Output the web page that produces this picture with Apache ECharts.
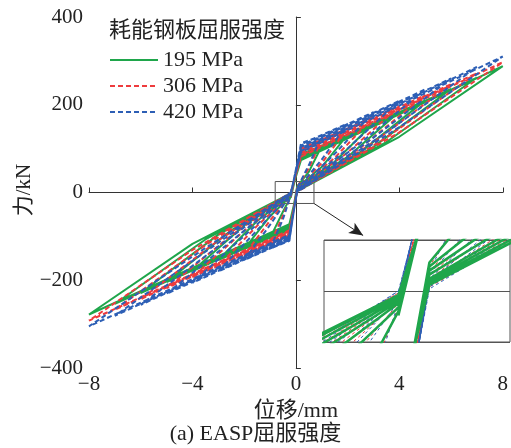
<!DOCTYPE html>
<html>
<head>
<meta charset="utf-8">
<script src="https://cdn.jsdelivr.net/npm/echarts@6/dist/echarts.min.js"></script>
<style>
  html, body { margin: 0; padding: 0; background: #fff; }
  #chart { width: 511px; height: 448px; }
</style>
</head>
<body>
<div id="chart"></div>
<script>
// loop amplitudes and the displacement of the main turning points, mm
const amps = [1, 2, 3, 4, 5, 6, 7, 8]
const negAmps = [-1, -2, -3, -4, -5, -6, -7, -8]
const kneeX = [0.5, 1.0, 1.5, 2.0, 2.5, 3.0, 3.5, 4.0]
const negKneeX = [-0.5, -1.0, -1.5, -2.0, -2.5, -3.0, -3.5, -4.0]
const posYieldX = 0.2
const negYieldX = -0.25
const posZeroX = 0.05
const negZeroX = -0.2

// forces, kN — 195 MPa
const posYield195 = [88, 86, 84, 82, 80, 78, 76, 74]
const posPeak195 = [106, 132, 158, 184, 210, 236, 262, 288]
const posKnee195 = [47, 58, 70, 81, 92, 104, 115, 127]
const posZero195 = [14, 12, 10, 8, 6, 5, 4, 3]
const negYield195 = [-86, -84, -82, -80, -78, -76, -74, -72]
const negPeak195 = [-104, -129, -154, -179, -204, -229, -254, -278]
const negKnee195 = [-44, -54, -65, -75, -86, -96, -107, -117]
const negZero195 = [-12, -10, -8, -6, -5, -4, -3, -2]

// 306 MPa
const posYield306 = [102, 100, 97, 94, 91, 88, 85, 82]
const posPeak306 = [120, 146, 172, 197, 222, 247, 272, 297]
const posKnee306 = [55, 67, 79, 91, 102, 114, 125, 137]
const posZero306 = [12, 10, 8, 6, 5, 4, 3, 2]
const negYield306 = [-100, -98, -96, -94, -92, -90, -88, -86]
const negPeak306 = [-118, -143, -168, -193, -218, -243, -267, -292]
const negKnee306 = [-53, -64, -76, -87, -98, -109, -120, -131]
const negZero306 = [-10, -8, -6, -5, -4, -3, -2, -1]

// 420 MPa
const posYield420 = [112, 110, 107, 104, 101, 98, 95, 92]
const posPeak420 = [130, 157, 183, 209, 235, 260, 286, 310]
const posKnee420 = [62, 75, 88, 100, 113, 125, 137, 149]
const posZero420 = [10, 8, 6, 5, 4, 3, 2, 1]
const negYield420 = [-110, -108, -106, -104, -102, -100, -98, -96]
const negPeak420 = [-128, -154, -180, -206, -231, -256, -281, -305]
const negKnee420 = [-61, -74, -86, -99, -111, -123, -135, -146]
const negZero420 = [-8, -6, -5, -4, -3, -2, -1, 0]

const seriesNames = ['195 MPa', '306 MPa', '420 MPa']

// zoomed window shown in the inset, and where the arrow points
const zoomX = [-0.8, 0.7]
const zoomY = [-25, 25]
const arrowEnd = [2.6, -98]

function buildLoops(posYield, posPeak, posKnee, posZero, negYield, negPeak, negKnee, negZero) {
  const pts = []
  for (let i = 0; i < amps.length; i++) {
    pts.push([negZeroX, negZero[i]])
    pts.push([posYieldX, posYield[i]])
    pts.push([amps[i], posPeak[i]])
    pts.push([kneeX[i], posKnee[i]])
    pts.push([posZeroX, posZero[i]])
    pts.push([negYieldX, negYield[i]])
    pts.push([negAmps[i], negPeak[i]])
    pts.push([negKneeX[i], negKnee[i]])
  }
  pts.push([negZeroX, negZero[amps.length - 1]])
  return pts
}

const loops195 = buildLoops(posYield195, posPeak195, posKnee195, posZero195, negYield195, negPeak195, negKnee195, negZero195)
const loops306 = buildLoops(posYield306, posPeak306, posKnee306, posZero306, negYield306, negPeak306, negKnee306, negZero306)
const loops420 = buildLoops(posYield420, posPeak420, posKnee420, posZero420, negYield420, negPeak420, negKnee420, negZero420)

const serif = "'Liberation Serif', 'Noto Sans CJK SC', serif"
const minus = v => String(v).replace('-', '\u2212')

const chart = echarts.init(document.getElementById('chart'))

chart.setOption({
  animation: false,
  title: [
    {
      text: '耗能钢板屈服强度',
      left: 104,
      top: 15,
      textStyle: { fontFamily: serif, fontSize: 22, fontWeight: 'normal', color: '#222' }
    },
    {
      text: '(a) EASP屈服强度',
      left: 'center',
      top: 418,
      textStyle: { fontFamily: serif, fontSize: 22, fontWeight: 'normal', color: '#222' }
    }
  ],
  // y axis title, placed by hand so it sits close to the tick labels
  graphic: [
    {
      type: 'text',
      x: 24,
      y: 190,
      rotation: Math.PI / 2,
      style: {
        text: '力/kN',
        font: '21px ' + serif,
        fill: '#222',
        align: 'center',
        verticalAlign: 'middle'
      }
    }
  ],
  legend: {
    data: seriesNames,
    orient: 'vertical',
    left: 104,
    top: 44,
    itemWidth: 48,
    itemHeight: 10,
    itemGap: 4,
    itemStyle: { opacity: 0 },
    textStyle: { fontFamily: serif, fontSize: 22, color: '#222' }
  },
  grid: [
    { left: 89, right: 6, top: 17, bottom: 80 },
    { left: 324, top: 240, width: 186, height: 102, show: true, borderColor: '#555', borderWidth: 1 }
  ],
  xAxis: [
    {
      type: 'value',
      min: -8,
      max: 8,
      interval: 4,
      name: '位移/mm',
      nameLocation: 'middle',
      nameGap: 28,
      nameTextStyle: { fontFamily: serif, fontSize: 22, color: '#222' },
      axisLine: { lineStyle: { color: '#333', width: 1 } },
      axisTick: { inside: true, length: 5, lineStyle: { color: '#333' } },
      axisLabel: { fontFamily: serif, fontSize: 21, color: '#222', margin: 6, formatter: minus },
      splitLine: { show: false }
    },
    {
      type: 'value',
      gridIndex: 1,
      min: zoomX[0],
      max: zoomX[1],
      show: false
    }
  ],
  yAxis: [
    {
      type: 'value',
      min: -400,
      max: 400,
      interval: 200,
      axisLine: { show: true, lineStyle: { color: '#333', width: 1 } },
      axisTick: { show: true, inside: true, length: 5, lineStyle: { color: '#333' } },
      axisLabel: { fontFamily: serif, fontSize: 21, color: '#222', margin: 6, formatter: minus },
      splitLine: { show: false }
    },
    {
      type: 'value',
      gridIndex: 1,
      min: zoomY[0],
      max: zoomY[1],
      interval: 25,
      axisLine: { show: false },
      axisTick: { show: false },
      axisLabel: { show: false },
      splitLine: { show: true, lineStyle: { color: '#555', width: 1 } }
    }
  ],
  series: [
    {
      name: seriesNames[0], type: 'line', data: loops195, symbol: 'none',
      lineStyle: { color: '#1fa64b', width: 2 }, itemStyle: { color: '#1fa64b' }
    },
    {
      name: seriesNames[1], type: 'line', data: loops306, symbol: 'none',
      lineStyle: { color: '#ee3b3d', width: 2, type: [5, 3] }, itemStyle: { color: '#ee3b3d' }
    },
    {
      name: seriesNames[2], type: 'line', data: loops420, symbol: 'none',
      lineStyle: { color: '#2d5fb5', width: 2, type: [5, 3] }, itemStyle: { color: '#2d5fb5' }
    },
    // zoom box and arrow
    {
      type: 'line', data: [], z: 10, symbol: 'none',
      markArea: {
        silent: true,
        itemStyle: { color: 'rgba(0,0,0,0)', borderColor: '#555', borderWidth: 1 },
        data: [[{ coord: [zoomX[0], zoomY[1]] }, { coord: [zoomX[1], zoomY[0]] }]]
      },
      markLine: {
        silent: true,
        symbol: ['none', 'arrow'],
        symbolSize: [9, 14],
        label: { show: false },
        lineStyle: { color: '#222', width: 1, type: 'solid' },
        data: [[{ coord: [zoomX[1], zoomY[0]] }, { coord: arrowEnd }]]
      }
    },
    // inset
    {
      name: seriesNames[1], type: 'line', xAxisIndex: 1, yAxisIndex: 1, data: loops306, symbol: 'none', clip: true, z: 6,
      lineStyle: { color: '#ee3b3d', width: 1, type: [3, 3] }
    },
    {
      name: seriesNames[2], type: 'line', xAxisIndex: 1, yAxisIndex: 1, data: loops420, symbol: 'none', clip: true, z: 6,
      lineStyle: { color: '#2d5fb5', width: 1, type: [3, 3] }
    },
    {
      name: seriesNames[0], type: 'line', xAxisIndex: 1, yAxisIndex: 1, data: loops195, symbol: 'none', clip: true, z: 6,
      lineStyle: { color: '#1fa64b', width: 2.5 }
    }
  ]
})
</script>
</body>
</html>
